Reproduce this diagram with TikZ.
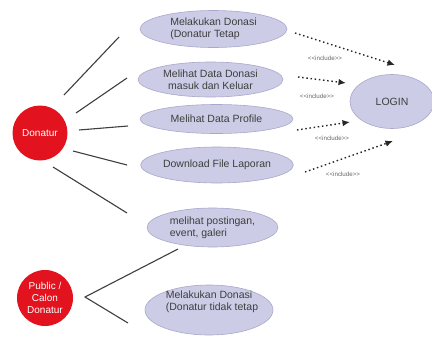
\documentclass[tikz,border=0pt]{standalone}
\usepackage{fontspec}
\setmainfont{Liberation Sans}
\usetikzlibrary{arrows.meta,shapes.geometric}
\definecolor{ucfill}{RGB}{204,204,230}
\definecolor{ucdraw}{RGB}{168,168,204}
\definecolor{actred}{RGB}{226,18,30}
\definecolor{ink}{RGB}{62,62,62}
\newcommand{\incltext}{<{}<include>{}>}
\begin{document}
\begin{tikzpicture}[x=1pt,y=-1pt,
  uc/.style={ellipse, fill=ucfill, draw=ucdraw, line width=0.6pt, inner sep=0pt,
    text=ink, font=\fontsize{10.5}{12}\selectfont},
  actor/.style={circle, fill=actred, inner sep=0pt, minimum size=55pt,
    text=white, align=center, font=\fontsize{10}{12}\selectfont},
  assoc/.style={draw=ink, line width=1.1pt},
  incl/.style={draw=black!85, line width=1.4pt, dash pattern=on 1.5pt off 2.7pt,
    -{Latex[length=7.5pt,width=6.5pt]}},
  incllabel/.style={font=\fontsize{6.2}{7}\selectfont, text=black!60, inner sep=0pt}
]
\useasboundingbox (0,0) rectangle (432,338);

% actors
\node[actor] (don) at (40,133) {Donatur};
\node[actor, minimum size=56pt] (pub) at (45,298) {Public /\\Calon\\Donatur};

% use cases
\node[uc, minimum width=147pt, minimum height=37pt, align=left] (e1) at (213.5,29)
  {Melakukan Donasi\\(Donatur Tetap};
\node[uc, minimum width=145pt, minimum height=35pt, align=center] (e2) at (210.5,79.5)
  {Melihat Data Donasi\\masuk dan Keluar};
\node[uc, minimum width=153pt, minimum height=29pt] (e3) at (216.5,119)
  {Melihat Data Profile};
\node[uc, minimum width=151pt, minimum height=36pt] (e4) at (217,165)
  {Download File Laporan};
\node[uc, minimum width=131pt, minimum height=39pt, align=left] (e5) at (212.5,227.5)
  {melihat postingan,\\event, galeri};
\node[uc, minimum width=128pt, minimum height=50pt] (e6) at (209,310) {};
\node[text=ink, font=\fontsize{10.5}{12}\selectfont, align=left, inner sep=0pt] (e6t)
  at (212,302) {Melakukan Donasi\\(Donatur tidak tetap};
\node[uc, minimum width=84pt, minimum height=54pt] (login) at (392,101.5) {LOGIN};

% association end points
\coordinate (d1) at (64,95);   \coordinate (u1) at (119,37);
\coordinate (d2) at (76,113);  \coordinate (u2) at (127,78);
\coordinate (d3) at (79,130);  \coordinate (u3) at (128,126);
\coordinate (d4) at (73,151);  \coordinate (u4) at (127,165);
\coordinate (d5) at (53,167);  \coordinate (u5) at (127,213);
\coordinate (pv) at (85,297);
\coordinate (u6) at (178,249); \coordinate (u7) at (128,323);

\draw[assoc] (d1) -- (u1);
\draw[assoc] (d2) -- (u2);
\draw[assoc] (d3) -- (u3);
\draw[assoc] (d4) -- (u4);
\draw[assoc] (d5) -- (u5);
\draw[assoc] (u6) -- (pv) -- (u7);

% include relations
\coordinate (s1) at (295,33);  \coordinate (t1) at (395,65);
\coordinate (s2) at (298,77);  \coordinate (t2) at (346,83);
\coordinate (s3) at (297,130); \coordinate (t3) at (350,122);
\coordinate (s4) at (305,172); \coordinate (t4) at (393,141);

\draw[incl] (s1) -- (t1);
\draw[incl] (s2) -- (t2);
\draw[incl] (s3) -- (t3);
\draw[incl] (s4) -- (t4);

\node[incllabel] (l1) at (325,58)  {\incltext};
\node[incllabel] (l2) at (317,96)  {\incltext};
\node[incllabel] (l3) at (332,138) {\incltext};
\node[incllabel] (l4) at (343,174) {\incltext};
\end{tikzpicture}
\end{document}
